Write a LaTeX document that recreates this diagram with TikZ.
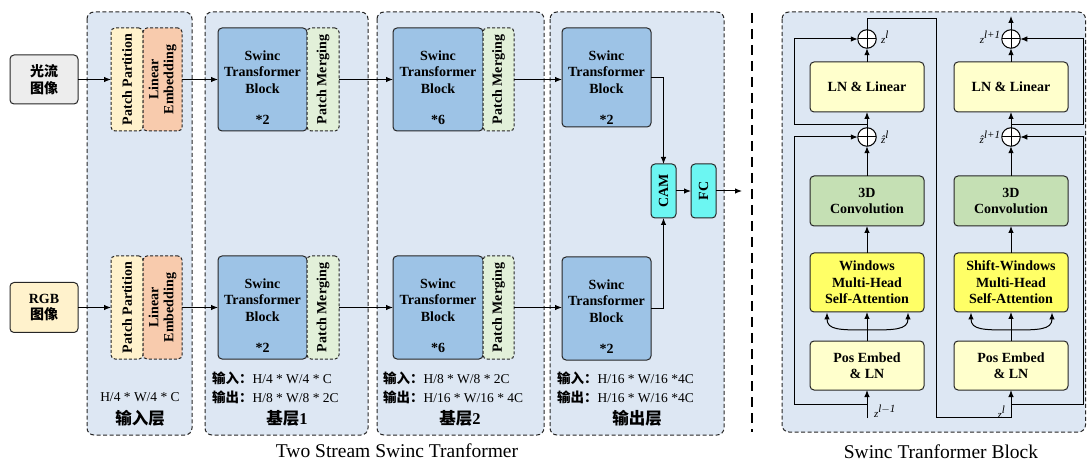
\documentclass[tikz,border=0pt]{standalone}
\usepackage{fontspec}
\setmainfont{Liberation Serif}
\newfontfamily\cjk{Noto Sans CJK SC}
\usetikzlibrary{arrows.meta}
\definecolor{panel}{HTML}{DDE7F3}
\definecolor{imgg}{HTML}{EDEDED}
\definecolor{rgbc}{HTML}{FFF2CC}
\definecolor{ppc}{HTML}{FFF2CC}
\definecolor{lec}{HTML}{F8CBAD}
\definecolor{stbc}{HTML}{9DC3E6}
\definecolor{pmc}{HTML}{E2F0D9}
\definecolor{camc}{HTML}{6CF6F2}
\definecolor{lnc}{HTML}{FFFFCC}
\definecolor{cvc}{HTML}{C5E0B4}
\definecolor{mhc}{HTML}{FFFF66}
\newcommand\zh[1]{{\cjk #1}}
\newcommand\zhb[1]{{\cjk\bfseries #1}}
\newcommand\zsup[2]{\textit{#1}\raisebox{5pt}{\textit{#2}}}
\newcommand\STB[6]{%
 \node[sbox, fill=stbc, minimum width=#3pt, minimum height={#5pt-#4pt}] (#1) at (#2,{(#4+#5)/2}) {};
 \node[bt] (#1t) at (#2,{#4+44}) {Swinc\\Transformer\\Block};
 \node[bt] (#1n) at (#2,{#4+92}) {*#6};}
\begin{document}
\begin{tikzpicture}[x=1pt,y=-1pt,
  >={Latex[length=7pt,width=5.5pt]},
  every node/.style={inner sep=0pt, outer sep=0pt},
  panelbox/.style={draw=black!85, fill=panel, line width=1pt, dash pattern=on 4pt off 2.5pt, rounded corners=7pt},
  sbox/.style={draw=black!85, line width=1pt, rounded corners=4pt},
  dbox/.style={draw=black!85, line width=1pt, rounded corners=4pt, dash pattern=on 3pt off 2pt},
  bt/.style={font=\fontsize{14}{16.5}\selectfont\bfseries, align=center},
  lt/.style={font=\fontsize{13.5}{16}\selectfont, anchor=west},
  ct/.style={font=\fontsize{13.5}{16}\selectfont},
  hd/.style={font=\fontsize{16.5}{18}\selectfont\bfseries},
  tt/.style={font=\fontsize{19.5}{22}\selectfont},
  zl/.style={font=\fontsize{11}{12}\selectfont},
  conn/.style={line width=1pt, ->},
  oplus/.style={circle, draw=black, line width=1pt, fill=white, minimum size=18.5pt,
    path picture={\draw[line width=1pt] (path picture bounding box.north) -- (path picture bounding box.south)
      (path picture bounding box.west) -- (path picture bounding box.east);}},
]
\useasboundingbox (0,0) rectangle (1087,462);

% ---------- input images ----------
\node[sbox, fill=imgg, minimum width=68pt, minimum height=49pt, bt] (img1) at (44,79.5) {\zh{光流}\\\zh{图像}};
\node[sbox, fill=rgbc, minimum width=68pt, minimum height=50pt, bt] (img2) at (44,307.5) {RGB\\\zh{图像}};

% ---------- panel 0 ----------
\draw[panelbox] (87,12) rectangle (192,435);
\node[dbox, fill=ppc, minimum width=32pt, minimum height=103pt, bt] (pp1) at (127,79.5) {\rotatebox{90}{Patch Partition}};
\node[dbox, fill=lec, minimum width=39pt, minimum height=103pt, bt] (le1) at (162.5,79.5) {\rotatebox{90}{\begin{tabular}{@{}c@{}}Linear\\[-1.5pt]Embedding\end{tabular}}};
\node[dbox, fill=ppc, minimum width=32pt, minimum height=103pt, bt] (pp2) at (127,307.5) {\rotatebox{90}{Patch Partition}};
\node[dbox, fill=lec, minimum width=39pt, minimum height=103pt, bt] (le2) at (162.5,307.5) {\rotatebox{90}{\begin{tabular}{@{}c@{}}Linear\\[-1.5pt]Embedding\end{tabular}}};
\node[ct] (p0a) at (140,397) {H/4 * W/4 * C};
\node[hd] (p0b) at (140,418) {\zh{输入层}};

% ---------- panel 1 ----------
\draw[panelbox] (205,12) rectangle (368,435);
\STB{s1a}{262.5}{89}{28}{131}{2}
\STB{s1b}{262.5}{89}{256}{359}{2}
\node[dbox, fill=pmc, minimum width=32pt, minimum height=103pt, bt] (pm1a) at (323,79.5) {\rotatebox{90}{Patch Merging}};
\node[dbox, fill=pmc, minimum width=32pt, minimum height=103pt, bt] (pm1b) at (323,307.5) {\rotatebox{90}{Patch Merging}};
\node[lt] (p1a) at (212,378) {\zhb{输入：}H/4 * W/4 * C};
\node[lt] (p1b) at (212,397) {\zhb{输出：}H/8 * W/8 * 2C};
\node[hd] (p1c) at (287,418) {\zh{基层}1};

% ---------- panel 2 ----------
\draw[panelbox] (377,12) rectangle (544,435);
\STB{s2a}{438}{90}{28}{131}{6}
\STB{s2b}{438}{90}{256}{359}{6}
\node[dbox, fill=pmc, minimum width=31pt, minimum height=103pt, bt] (pm2a) at (498.5,79.5) {\rotatebox{90}{Patch Merging}};
\node[dbox, fill=pmc, minimum width=31pt, minimum height=103pt, bt] (pm2b) at (498.5,307.5) {\rotatebox{90}{Patch Merging}};
\node[lt] (p2a) at (383,378) {\zhb{输入：}H/8 * W/8 * 2C};
\node[lt] (p2b) at (383,397) {\zhb{输出：}H/16 * W/16 * 4C};
\node[hd] (p2c) at (460,418) {\zh{基层}2};

% ---------- panel 3 ----------
\draw[panelbox] (550,12) rectangle (724,435);
\STB{s3a}{606.5}{89}{28}{127}{2}
\STB{s3b}{606.5}{89}{257}{360}{2}
\node[sbox, fill=camc, minimum width=25pt, minimum height=54pt, bt] (cam) at (663.5,191) {\rotatebox{90}{CAM}};
\node[sbox, fill=camc, minimum width=25pt, minimum height=54pt, bt] (fc) at (703.5,191) {\rotatebox{90}{FC}};
\node[lt] (p3a) at (557,378) {\zhb{输入：}H/16 * W/16 *4C};
\node[lt] (p3b) at (557,397) {\zhb{输出：}H/16 * W/16 *4C};
\node[hd] (p3c) at (637,418) {\zh{输出层}};
\coordinate (out) at (742,191);

% ---------- stream connectors ----------
\draw[conn] (img1.east) -- (pp1.west);
\draw[conn] (img2.east) -- (pp2.west);
\draw[conn] (le1.east) -- (s1a.west);
\draw[conn] (le2.east) -- (s1b.west);
\draw[conn] (pm1a.east) -- (s2a.west);
\draw[conn] (pm1b.east) -- (s2b.west);
\draw[conn] (pm2a.east) -- (pm2a.east -| s3a.west);
\draw[conn] (pm2b.east) -- (pm2b.east -| s3b.west);
\draw[conn] (s3a.east) -| (cam.north);
\draw[conn] (s3b.east) -| (cam.south);
\draw[conn] (cam.east) -- (fc.west);
\draw[conn] (fc.east) -- (out);

% separator
\draw[line width=1.6pt, dash pattern=on 10pt off 6pt] (752,13) -- (752,432);

% ---------- Swin block panel ----------
\draw[panelbox] (782,12) rectangle (1085.5,432);
\node[sbox, fill=lnc, minimum width=114pt, minimum height=50pt, bt] (lnl) at (867,87) {LN \& Linear};
\node[sbox, fill=lnc, minimum width=114pt, minimum height=50pt, bt] (lnr) at (1011,87) {LN \& Linear};
\node[sbox, fill=cvc, minimum width=114pt, minimum height=50pt, bt] (cvl) at (867,201) {3D\\Convolution};
\node[sbox, fill=cvc, minimum width=114pt, minimum height=50pt, bt] (cvr) at (1011,201) {3D\\Convolution};
\node[sbox, fill=mhc, minimum width=114pt, minimum height=59pt, bt] (mhl) at (867,282.5) {Windows\\Multi-Head\\Self-Attention};
\node[sbox, fill=mhc, minimum width=114pt, minimum height=59pt, bt] (mhr) at (1011,282.5) {Shift-Windows\\Multi-Head\\Self-Attention};
\node[sbox, fill=lnc, minimum width=114pt, minimum height=49pt, bt] (pel) at (867,365.5) {Pos Embed\\\& LN};
\node[sbox, fill=lnc, minimum width=114pt, minimum height=49pt, bt] (per) at (1011,365.5) {Pos Embed\\\& LN};
\node[oplus] (a1l) at (867,39) {};
\node[oplus] (a2l) at (867,137) {};
\node[oplus] (a1r) at (1011,39) {};
\node[oplus] (a2r) at (1011,137) {};
\coordinate (zin) at (867,418);
\coordinate (zout) at (1011,16);

% left column
\draw[conn] (zin) -- (pel.south);
\draw[conn] (pel.north) -- (mhl.south);
\draw[conn] (867,330) .. controls (840,330) and (827,330) .. (827,312.5);
\draw[conn] (867,330) .. controls (894,330) and (908,330) .. (908,312.5);
\draw[conn] (mhl.north) -- (cvl.south);
\draw[conn] (cvl.north) -- (a2l.south);
\draw[conn] (a2l.north) -- (lnl.south);
\draw[conn] (lnl.north) -- (a1l.south);
\draw[conn] (867,404) -- (794,404) -- (794,137) -- (a2l.west);
\draw[conn] (867,125) -- (794,125) -- (794,39) -- (a1l.west);
\draw[conn] (a1l.north) -- (867,19) -- (936,19) -- (936,417) -- (1011,417) -- (per.south);

% right column
\draw[conn] (per.north) -- (mhr.south);
\draw[conn] (1011,330) .. controls (984,330) and (971,330) .. (971,312.5);
\draw[conn] (1011,330) .. controls (1038,330) and (1052,330) .. (1052,312.5);
\draw[conn] (mhr.north) -- (cvr.south);
\draw[conn] (cvr.north) -- (a2r.south);
\draw[conn] (a2r.north) -- (lnr.south);
\draw[conn] (lnr.north) -- (a1r.south);
\draw[conn] (1011,404) -- (1083,404) -- (1083,137) -- (a2r.east);
\draw[conn] (1011,125) -- (1083,125) -- (1083,39) -- (a1r.east);
\draw[conn] (a1r.north) -- (zout);

% labels
\node[zl, anchor=west] (lz1) at (881,37) {\zsup{z}{l}};
\node[zl, anchor=west] (lz2) at (881,137) {\zsup{\^{z}}{l}};
\node[zl, anchor=east] (rz1) at (1000,37) {\zsup{z}{l+1}};
\node[zl, anchor=east] (rz2) at (1000,137) {\zsup{\^{z}}{l+1}};
\node[zl, anchor=west] (bz1) at (874,411) {\zsup{z}{l$-$1}};
\node[zl, anchor=east] (bz2) at (1005,412) {\zsup{z}{l}};

% titles
\node[tt] (title1) at (397,451) {Two Stream Swinc Tranformer};
\node[tt] (title2) at (941,452) {Swinc Tranformer Block};
\end{tikzpicture}
\end{document}
